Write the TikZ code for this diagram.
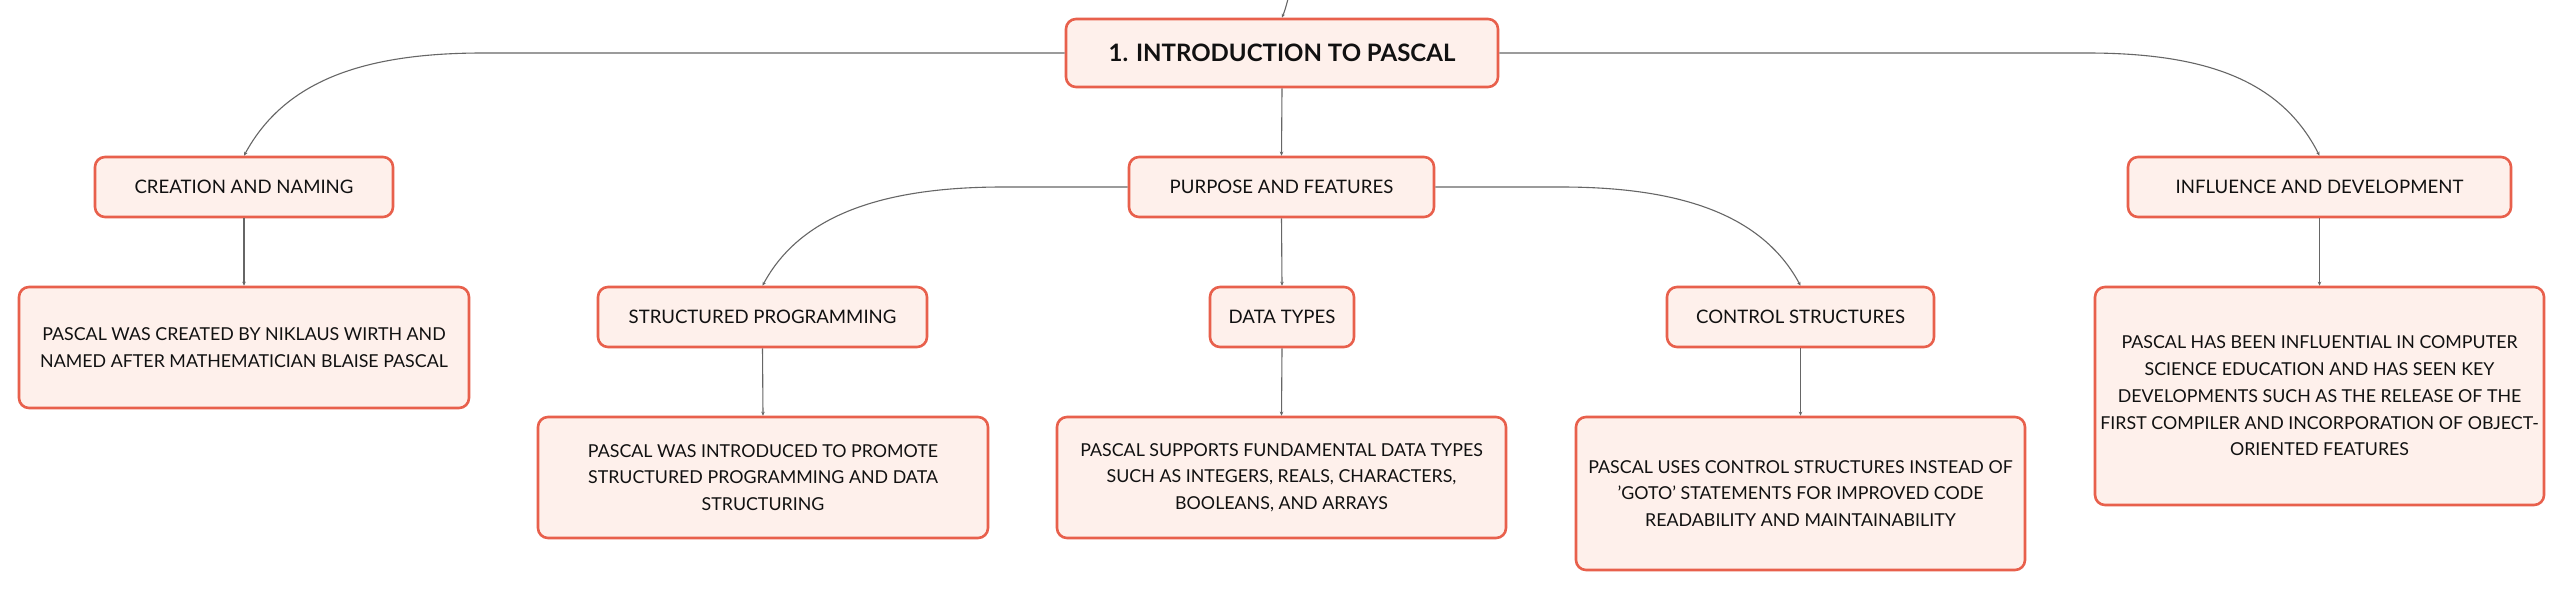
\documentclass[tikz,border=0pt]{standalone}
\usepackage{fontspec}
\setmainfont{Lato}
\usetikzlibrary{arrows.meta}
\definecolor{boxborder}{HTML}{E8604C}
\definecolor{boxfill}{HTML}{FEF0EB}
\definecolor{linecol}{HTML}{666666}
\definecolor{txt}{HTML}{111111}
\tikzset{
  box/.style={draw=boxborder, fill=boxfill, line width=2.6pt, rounded corners=10pt,
    inner sep=0pt, align=center, text=txt, font=\fontsize{17.8}{26.7}\selectfont},
  topicbox/.style={box, font=\fontsize{18.6}{22}\selectfont},
  rootbox/.style={box, font=\bfseries\fontsize{24}{28}\selectfont},
  conn/.style={draw=linecol, line width=1.1pt, -{Stealth[length=4pt,width=3.5pt]}},
}
\begin{document}
\begin{tikzpicture}[x=1pt,y=-1pt]
\useasboundingbox (0,0) rectangle (2565,591);
\fill[white] (0,0) rectangle (2565,591);

\node[rootbox, minimum width=432pt, minimum height=68pt] (root) at (1282,53) {1. INTRODUCTION TO PASCAL};

\node[topicbox, minimum width=298pt, minimum height=60pt] (creation) at (244,187) {CREATION AND NAMING};
\node[topicbox, minimum width=305pt, minimum height=60pt] (purpose) at (1281.5,187) {PURPOSE AND FEATURES};
\node[topicbox, minimum width=383pt, minimum height=60pt] (influence) at (2319.5,187) {INFLUENCE AND DEVELOPMENT};

\node[topicbox, minimum width=329pt, minimum height=60pt] (structured) at (762.5,317) {STRUCTURED PROGRAMMING};
\node[topicbox, minimum width=144pt, minimum height=60pt] (datatypes) at (1282,317) {DATA TYPES};
\node[topicbox, minimum width=267pt, minimum height=60pt] (control) at (1800.5,317) {CONTROL STRUCTURES};

\node[box, minimum width=450pt, minimum height=121pt] (creationtxt) at (244,347.5)
  {PASCAL WAS CREATED BY NIKLAUS WIRTH AND\\NAMED AFTER MATHEMATICIAN BLAISE PASCAL};
\node[box, minimum width=449pt, minimum height=218pt] (influencetxt) at (2319.5,396)
  {PASCAL HAS BEEN INFLUENTIAL IN COMPUTER\\SCIENCE EDUCATION AND HAS SEEN KEY\\DEVELOPMENTS SUCH AS THE RELEASE OF THE\\FIRST COMPILER AND INCORPORATION OF OBJECT-\\ORIENTED FEATURES};
\node[box, minimum width=450pt, minimum height=121pt] (structuredtxt) at (763,477.5)
  {PASCAL WAS INTRODUCED TO PROMOTE\\STRUCTURED PROGRAMMING AND DATA\\STRUCTURING};
\node[box, minimum width=449pt, minimum height=121pt] (datatypestxt) at (1281.5,477.5)
  {PASCAL SUPPORTS FUNDAMENTAL DATA TYPES\\SUCH AS INTEGERS, REALS, CHARACTERS,\\BOOLEANS, AND ARRAYS};
\node[box, minimum width=449pt, minimum height=153pt] (controltxt) at (1800.5,493.5)
  {PASCAL USES CONTROL STRUCTURES INSTEAD OF\\'GOTO' STATEMENTS FOR IMPROVED CODE\\READABILITY AND MAINTAINABILITY};

\coordinate (topin) at (1288,-1);
\draw[conn] (topin) .. controls (1285,10) .. (root.north);

\draw[conn] (root.west) -- (483,53) .. controls (361,53) and (284,82) .. (creation.north);
\draw[conn] (root.east) -- (2087,53) .. controls (2209,53) and (2282,82) .. (influence.north);
\draw[conn] (root.south) -- (purpose.north);

\draw[conn] (purpose.west) -- (1003,187) .. controls (881,187) and (800,216) .. (structured.north);
\draw[conn] (purpose.east) -- (1561,187) .. controls (1683,187) and (1763,216) .. (control.north);
\draw[conn] (purpose.south) -- (datatypes.north);

\draw[conn] (creation.south) -- (creationtxt.north);
\draw[conn] (influence.south) -- (influencetxt.north);
\draw[conn] (structured.south) -- (structuredtxt.north);
\draw[conn] (datatypes.south) -- (datatypestxt.north);
\draw[conn] (control.south) -- (controltxt.north);
\end{tikzpicture}
\end{document}
